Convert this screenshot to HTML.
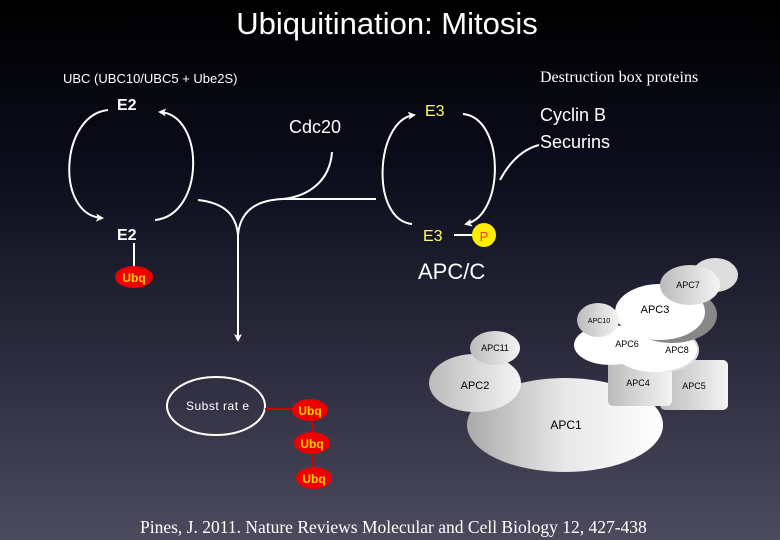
<!DOCTYPE html>
<html><head><style>
html,body{margin:0;padding:0;width:780px;height:540px;overflow:hidden}
body{background:linear-gradient(#000 0%,#0b0c1a 30%,#2a2a3c 65%,#4c4b5e 100%)}
svg{position:absolute;left:0;top:0}
text{font-family:"Liberation Sans",sans-serif}
text.serif{font-family:"Liberation Serif",serif}
</style></head><body>
<svg width="780" height="540" viewBox="0 0 780 540">
<defs>
<marker id="ar" markerWidth="8" markerHeight="8" refX="6" refY="4" orient="auto" markerUnits="userSpaceOnUse"><path d="M0,0 L8,4 L0,8 L2,4z" fill="#fff"/></marker>
<linearGradient id="g1" x1="0" y1="0" x2="1" y2="0"><stop offset="0" stop-color="#aaa"/><stop offset="0.5" stop-color="#e8e8e8"/><stop offset="1" stop-color="#fff"/></linearGradient>
<linearGradient id="g2" x1="0" y1="0" x2="1" y2="0"><stop offset="0" stop-color="#bbb"/><stop offset="1" stop-color="#f4f4f4"/></linearGradient>
</defs>
<text x="387" y="34" font-size="31" fill="#fff" text-anchor="middle">Ubiquitination: Mitosis</text>
<text x="63" y="83" font-size="13" fill="#fff">UBC  (UBC10/UBC5 + Ube2S)</text>
<text class="serif" x="540" y="82" font-size="16" fill="#fff">Destruction box proteins</text>
<text x="117" y="110" font-size="16" font-weight="bold" fill="#fff">E2</text>
<text x="117" y="240" font-size="16" font-weight="bold" fill="#fff">E2</text>
<g fill="none" stroke="#fff" stroke-width="2">
<path d="M108,110 C60,115 55,215 102,218" marker-end="url(#ar)"/>
<path d="M155,220 C205,215 205,115 160,112" marker-end="url(#ar)"/>
<path d="M198,200 C225,203 236,215 238,235 L238,340" marker-end="url(#ar)"/>
<path d="M238,235 C240,212 255,200 283,199 L376,199"/>
<path d="M332,152 C330,180 310,196 283,199"/>
<path d="M412,224 C370,220 375,120 414,115" marker-end="url(#ar)"/>
<path d="M463,114 C505,118 505,215 466,224" marker-end="url(#ar)"/>
<path d="M539,145 C520,150 508,165 500,180"/>
<line x1="454" y1="235" x2="475" y2="235"/>
<line x1="134" y1="243" x2="134" y2="270"/>
<ellipse cx="216" cy="406" rx="49" ry="29"/>
</g>
<text x="289" y="133" font-size="18" fill="#fff">Cdc20</text>
<text x="425" y="116" font-size="16" fill="#ffff66">E3</text>
<text x="423" y="241" font-size="16" fill="#ffff66">E3</text>
<text x="540" y="121" font-size="18" fill="#fff">Cyclin B</text>
<text x="540" y="148" font-size="18" fill="#fff">Securins</text>
<circle cx="484" cy="235" r="12" fill="#ffee00"/>
<text x="484" y="241" font-size="13" fill="#e33" text-anchor="middle">P</text>
<text x="418" y="279" font-size="22" fill="#fff">APC/C</text>
<text x="186" y="410" font-size="12" fill="#fff" letter-spacing="0.5">Subst rat e</text>
<g stroke="#c00" stroke-width="2"><line x1="265" y1="409" x2="300" y2="409"/><line x1="312" y1="415" x2="313" y2="475"/></g>
<g fill="#ee0000">
<ellipse cx="134" cy="277" rx="19" ry="11"/>
<ellipse cx="310" cy="410" rx="18" ry="11"/>
<ellipse cx="312" cy="443" rx="18" ry="11"/>
<ellipse cx="314" cy="478" rx="18" ry="11"/>
</g>
<g fill="#ffd000" font-size="12" font-weight="bold" text-anchor="middle">
<text x="134" y="282">Ubq</text><text x="310" y="415">Ubq</text><text x="312" y="448">Ubq</text><text x="314" y="483">Ubq</text>
</g>
<ellipse cx="565" cy="425" rx="98" ry="47" fill="url(#g1)"/>
<ellipse cx="475" cy="383" rx="46" ry="29" fill="url(#g2)"/>
<ellipse cx="495" cy="348" rx="25" ry="17" fill="url(#g2)"/>
<rect x="660" y="360" width="68" height="50" rx="5" fill="url(#g2)"/>
<rect x="608" y="358" width="64" height="48" rx="5" fill="url(#g2)"/>
<ellipse cx="665" cy="350" rx="34" ry="22" fill="#ddd"/>
<ellipse cx="655" cy="350" rx="42" ry="22" fill="#fff"/>
<ellipse cx="610" cy="345" rx="36" ry="20" fill="#fff"/>
<ellipse cx="672" cy="315" rx="45" ry="28" fill="#888"/>
<ellipse cx="660" cy="312" rx="45" ry="28" fill="#fff"/>
<ellipse cx="715" cy="275" rx="23" ry="17" fill="#ddd"/>
<ellipse cx="690" cy="285" rx="30" ry="20" fill="url(#g2)"/>
<ellipse cx="598" cy="320" rx="21" ry="17" fill="url(#g2)"/>
<g fill="#000" font-size="9" text-anchor="middle">
<text x="566" y="429" font-size="12">APC1</text>
<text x="475" y="389" font-size="11">APC2</text>
<text x="495" y="351">APC11</text>
<text x="638" y="386">APC4</text>
<text x="694" y="389">APC5</text>
<text x="627" y="347">APC6</text>
<text x="677" y="353">APC8</text>
<text x="655" y="313" font-size="11">APC3</text>
<text x="599" y="323" font-size="7">APC10</text>
<text x="688" y="288">APC7</text>
</g>
<text class="serif" x="140" y="533" font-size="17.5" fill="#fff">Pines, J. 2011. Nature Reviews Molecular and Cell Biology 12, 427-438</text>
</svg>
</body></html>
